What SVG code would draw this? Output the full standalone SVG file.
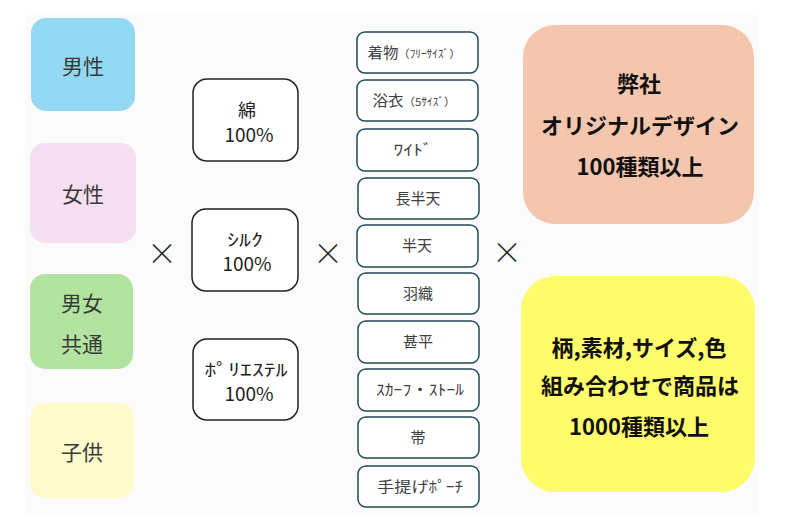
<svg xmlns="http://www.w3.org/2000/svg" width="786" height="532" viewBox="0 0 786 532">
<style>
text{font-family:"Noto Sans CJK JP","Noto Sans",sans-serif;text-anchor:middle}
.cat text{font-size:21px;fill:#3a3a3a}
.mat rect{fill:#ffffff;stroke:#222;stroke-width:1.5}
.mat text{font-size:18px;fill:#222}
.mat .pct{font-size:19px}
.mat .hw{font-size:17px}
.prod rect{fill:#ffffff;stroke:#1f4b5a;stroke-width:1.5}
.prod text{font-size:15px;fill:#404040}
.big text{font-size:22px;font-weight:bold;fill:#111}
.x{font-size:30px;fill:#222;font-weight:300}
.sm{font-size:11px}
</style>
<rect width="786" height="532" fill="#ffffff"/>
<rect x="25" y="15" width="734" height="500" fill="#fbfbfb"/>
<g class="cat">
<g id="male"><rect x="31" y="18" width="104" height="93" rx="15" fill="#93d9f3"/><text x="83" y="74">男性</text></g>
<g id="female"><rect x="30" y="143" width="106" height="100" rx="15" fill="#f5dff0"/><text x="83" y="202">女性</text></g>
<g id="unisex"><rect x="30" y="274" width="103" height="95" rx="15" fill="#b3e3a0"/><text x="82" y="311">男女</text><text x="82" y="352">共通</text></g>
<g id="kids"><rect x="30" y="403" width="104" height="95" rx="15" fill="#fdfacb"/><text x="82" y="460">子供</text></g>
</g>
<g class="mat">
<g id="cotton"><rect x="193" y="79" width="105" height="82" rx="14"/><text x="247" y="117">綿</text><text class="pct" x="249" y="142">100%</text></g>
<g id="silk"><rect x="192" y="209" width="106" height="82" rx="14"/><text class="hw" x="245" y="246" textLength="36" lengthAdjust="spacingAndGlyphs">ｼﾙｸ</text><text class="pct" x="247" y="271">100%</text></g>
<g id="poly"><rect x="193" y="339" width="105" height="81" rx="14"/><text class="hw" x="246" y="376" textLength="83" lengthAdjust="spacingAndGlyphs">ﾎﾟﾘｴｽﾃﾙ</text><text class="pct" x="249" y="401">100%</text></g>
</g>
<g class="prod">
<g id="p1"><rect x="357" y="32" width="121" height="41" rx="8"/><text x="414" y="58" textLength="93" lengthAdjust="spacingAndGlyphs">着物<tspan class="sm">（ﾌﾘｰｻｲｽﾞ）</tspan></text></g>
<g id="p2"><rect x="357" y="80" width="121" height="41" rx="8"/><text x="414" y="106" textLength="83" lengthAdjust="spacingAndGlyphs">浴衣<tspan class="sm">（5ｻｲｽﾞ）</tspan></text></g>
<g id="p3"><rect x="357" y="129" width="121" height="42" rx="8"/><text x="413" y="155" textLength="39" lengthAdjust="spacingAndGlyphs">ﾜｲﾄﾞ</text></g>
<g id="p4"><rect x="358" y="178" width="121" height="41" rx="8"/><text x="418" y="204">長半天</text></g>
<g id="p5"><rect x="357" y="225" width="121" height="42" rx="8"/><text x="417" y="251">半天</text></g>
<g id="p6"><rect x="358" y="273" width="121" height="41" rx="8"/><text x="418" y="299">羽織</text></g>
<g id="p7"><rect x="358" y="321" width="121" height="42" rx="8"/><text x="418" y="347">甚平</text></g>
<g id="p8"><rect x="358" y="369" width="121" height="42" rx="8"/><text x="420" y="395" textLength="88" lengthAdjust="spacingAndGlyphs">ｽｶｰﾌ・ｽﾄｰﾙ</text></g>
<g id="p9"><rect x="358" y="417" width="121" height="41" rx="8"/><text x="418" y="443">帯</text></g>
<g id="p10"><rect x="358" y="466" width="121" height="41" rx="8"/><text x="420" y="492" textLength="86" lengthAdjust="spacingAndGlyphs">手提げﾎﾟｰﾁ</text></g>
</g>
<g class="big">
<g id="design"><rect x="523" y="25" width="231" height="199" rx="32" fill="#f4c6ad"/><text x="639" y="92">弊社</text><text x="640" y="134">オリジナルデザイン</text><text x="640" y="175">100種類以上</text></g>
<g id="total"><rect x="521" y="276" width="234" height="216" rx="34" fill="#fffb6b"/><text x="639" y="356">柄,素材,サイズ,色</text><text x="640" y="394">組み合わせで商品は</text><text x="639" y="435">1000種類以上</text></g>
</g>
<g id="operators">
<text class="x" x="162" y="264">×</text>
<text class="x" x="328" y="264">×</text>
<text class="x" x="507" y="263">×</text>
</g>
</svg>
